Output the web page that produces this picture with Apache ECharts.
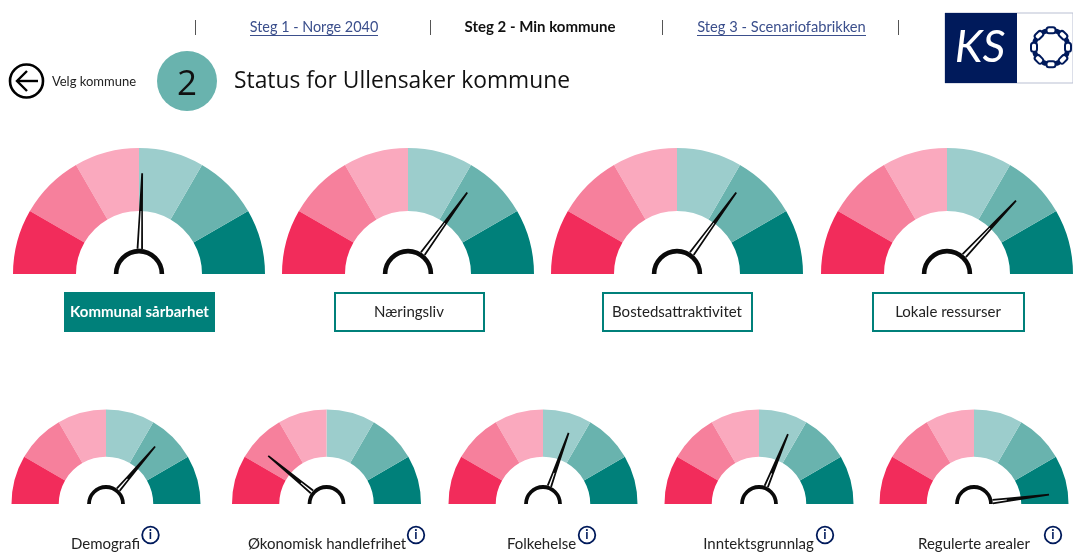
<!DOCTYPE html>
<html><head><meta charset="utf-8">
<style>html,body{margin:0;padding:0;background:#fff}#c{width:1073px;height:552px}</style>
<script src="https://cdn.jsdelivr.net/npm/echarts@6/dist/echarts.min.js"></script>
</head><body><div id="c"></div>
<script>
const navLabels = ['Steg 1 - Norge 2040', 'Steg 2 - Min kommune', 'Steg 3 - Scenariofabrikken'];
const backLabel = 'Velg kommune';
const stepNumber = '2';
const pageTitle = 'Status for Ullensaker kommune';
const mainNames = ['Kommunal sårbarhet', 'Næringsliv', 'Bostedsattraktivitet', 'Lokale ressurser'];
const mainValues = [51, 70, 70, 74];
const subNames = ['Demografi', 'Økonomisk handlefrihet', 'Folkehelse', 'Inntektsgrunnlag', 'Regulerte arealer'];
const subValues = [72.5, 22, 61, 62.5, 96];
const bandStops = [1/6, 2/6, 3/6, 4/6, 5/6, 1];
const bandColors = ['#F22C5B', '#F6809C', '#FAA9BE', '#9CCDCC', '#69B3AE', '#00807A'];

const FONT = 'Lato, "Open Sans", sans-serif';
const NAVY = '#001A5B', TEAL = '#00807A';
const NEEDLE_TOP = 'path://M3.6 0L6.4 0L8 50L10 100L0 100L2 50Z M5.5 50L4.5 50L2.9 100L7.1 100Z';
const NEEDLE_SUB = 'path://M3.4 0L6.6 0L9 75L10 100L0 100L1 75Z M5.8 75L4.2 75L3.4 100L6.6 100Z';

function gauge(cx, cy, R, value, name, icon, w, hubW) {
  const hubR = R * 0.2, tipLen = R * 0.8;
  return [{
    type: 'gauge', name, center: [cx, cy], radius: R, min: 0, max: 100,
    startAngle: 180, endAngle: 0, animation: false, silent: true,
    axisLine: { lineStyle: { width: R / 2, color: bandStops.map((s, i) => [s, bandColors[i]]) } },
    splitLine: { show: false }, axisTick: { show: false }, axisLabel: { show: false },
    anchor: { show: false }, title: { show: false }, detail: { show: false },
    pointer: {
      icon, width: w, length: tipLen - hubR,
      offsetCenter: [0, -hubR], itemStyle: { color: '#0a0a0a' }
    },
    data: [{ value, name }]
  }, {
    type: 'gauge', center: [cx, cy], radius: hubR, min: 0, max: 100,
    startAngle: 180, endAngle: 0, animation: false, silent: true,
    axisLine: { lineStyle: { width: hubW, color: [[1, '#0a0a0a']] } },
    splitLine: { show: false }, axisTick: { show: false }, axisLabel: { show: false },
    pointer: { show: false }, anchor: { show: false }, title: { show: false }, detail: { show: false },
    data: []
  }];
}

const mainCx = [139, 408, 677, 947];
const subCx = [106, 326.5, 543, 759, 974];
const series = [];
mainNames.forEach((n, i) => series.push(...gauge(mainCx[i], 274, 126, mainValues[i], n, NEEDLE_TOP, 6.4, 4.6)));
subNames.forEach((n, i) => series.push(...gauge(subCx[i], 504, 94.5, subValues[i], n, NEEDLE_SUB, 5.4, 3.8)));

const g = [];
const text = (x, y, t, size, o = {}) => g.push({ type: 'text', x, y, silent: true, z: 5, style: Object.assign({
  text: t, fontSize: size, fontFamily: FONT, fill: '#222', align: 'center', verticalAlign: 'middle' }, o) });

// navigation bar
[195.5, 430.5, 662.5, 898.5].forEach(x => g.push({ type: 'line', shape: { x1: x, y1: 20, x2: x, y2: 35 }, style: { stroke: '#555', lineWidth: 1 } }));
const linkColor = '#3B4F8C';
text(314, 27, navLabels[0], 14.4, { fill: linkColor });
text(540, 27, navLabels[1], 15, { fontWeight: 'bold', fill: '#111' });
text(781.5, 27, navLabels[2], 14.7, { fill: linkColor });
[[250, 378], [697, 866]].forEach(p => g.push({ type: 'line', shape: { x1: p[0], y1: 35.5, x2: p[1], y2: 35.5 }, style: { stroke: linkColor, lineWidth: 1 } }));

// back button
g.push({ type: 'circle', shape: { cx: 26.5, cy: 81, r: 16.5 }, style: { fill: '#fff', stroke: '#000', lineWidth: 2.6 } });
g.push({ type: 'polyline', shape: { points: [[27, 71], [17, 81], [27, 91]] }, style: { fill: 'none', stroke: '#000', lineWidth: 2.4 } });
g.push({ type: 'line', shape: { x1: 17, y1: 81, x2: 38, y2: 81 }, style: { stroke: '#000', lineWidth: 2.4 } });
text(94, 82, backLabel, 13, { fill: '#222' });

// step badge and title
g.push({ type: 'circle', shape: { cx: 187, cy: 81, r: 30 }, style: { fill: '#69B3AE' } });
text(187, 85, stepNumber, 35, { fill: '#111', fontFamily: '"Open Sans", sans-serif' });
text(234, 81.5, pageTitle, 22.8, { align: 'left', fill: '#111', fontFamily: '"Open Sans", sans-serif' });

// logo
g.push({ type: 'rect', shape: { x: 945, y: 13, width: 128, height: 70 }, style: { fill: '#fff', stroke: '#B9BFD2', lineWidth: 1 } });
g.push({ type: 'rect', shape: { x: 945, y: 13, width: 72, height: 70 }, style: { fill: NAVY } });
text(980, 47, 'KS', 45, { fill: '#fff', fontFamily: 'Lato, sans-serif', fontStyle: 'italic' });
for (let i = 0; i < 8; i++) {
  const a = i * Math.PI / 4, b = a + Math.PI / 8;
  g.push({ type: 'rect', x: 1051 + 17 * Math.sin(a), y: 47.3 - 17 * Math.cos(a), rotation: -a,
    shape: { x: -4.5, y: -3, width: 9, height: 6, r: 2.5 }, style: { fill: '#fff', stroke: NAVY, lineWidth: 2 } });
  g.push({ type: 'rect', x: 1051 + 17 * Math.sin(b), y: 47.3 - 17 * Math.cos(b), rotation: -b,
    shape: { x: -2.5, y: -2.5, width: 5, height: 5, r: 1.5 }, style: { fill: NAVY } });
}

// main buttons
const btnX = [64, 335, 603, 873], btnW = [151, 149, 149, 151];
mainNames.forEach((n, i) => {
  const on = i === 0;
  g.push({ type: 'rect', shape: { x: btnX[i], y: on ? 292 : 293, width: btnW[i], height: on ? 40 : 38 },
    style: { fill: on ? TEAL : '#fff', stroke: TEAL, lineWidth: on ? 0 : 2 } });
  text(btnX[i] + btnW[i] / 2 - (on ? 0 : 0.5), 312, n, 15, { fill: on ? '#fff' : '#222', fontWeight: on ? 'bold' : 'normal' });
});

// sub labels and info icons
const subLabelX = [105.5, 327, 541.5, 758.5, 974];
const infoX = [150.5, 416, 587, 825, 1053];
subNames.forEach((n, i) => {
  text(subLabelX[i], 544, n, 15, { fill: '#222' });
  g.push({ type: 'circle', shape: { cx: infoX[i], cy: 535, r: 8.3 }, style: { fill: '#fff', stroke: NAVY, lineWidth: 1.8 } });
  text(infoX[i], 535, 'i', 13, { fill: NAVY, fontWeight: 'bold' });
});

const chart = echarts.init(document.getElementById('c'), null, { renderer: 'canvas', width: 1073, height: 552 });
chart.setOption({ animation: false, backgroundColor: '#fff', series, graphic: { elements: g } });
</script></body></html>
